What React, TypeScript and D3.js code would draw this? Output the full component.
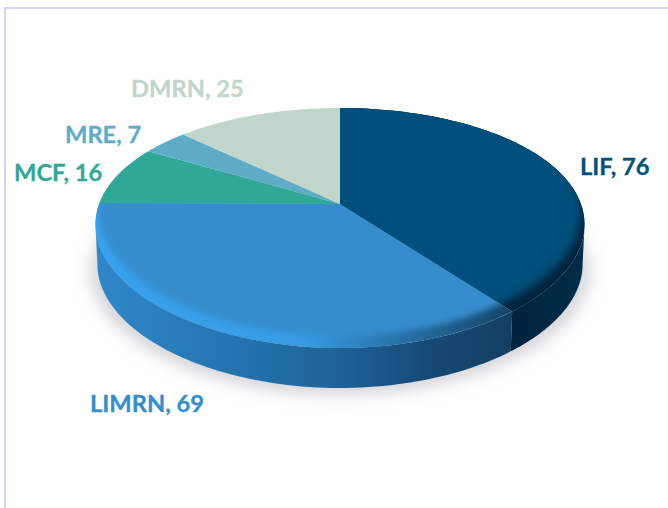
import React from "react";
import * as d3 from "d3";

const categories = ["LIF", "LIMRN", "MCF", "MRE", "DMRN"];
const values = [76, 69, 16, 7, 25];
const colors = ["#02507c", "#348dcd", "#30a898", "#5facc9", "#c0d6ca"];
const labelX = [580, 90, 14, 65, 131];
const labelY = [175, 412, 181, 143, 97];

const W = 668, H = 508;
const cx = 340, cy = 204;
const kx = 0.17, ky = 0.2, A = 115.2, B = 241;
const depth = 40;

// perspective projection of a point on the unit disc (angle clockwise from the top)
const proj = (a: number, r = 1): [number, number] => {
  const u = r * Math.sin(a), v = -r * Math.cos(a);
  return [cx + (B * u) / (1 - kx * v), cy + (A * v) / (1 - ky * v)];
};
const line = d3.line<[number, number]>();
const arcPts = (a0: number, a1: number, r = 1) =>
  d3.range(0, 81).map((i) => proj(a0 + ((a1 - a0) * i) / 80, r));

const arcs = d3.pie<number>().sort(null)(values);
const wedge = (a0: number, a1: number) =>
  line([[cx, cy], ...arcPts(a0, a1)])! + "Z";
const wall = (a0: number, a1: number) => {
  const top = arcPts(a0, a1);
  const bot = top.slice().reverse().map(([x, y]): [number, number] => [
    cx + (x - cx) * 0.992,
    y + depth,
  ]);
  return line([...top, ...bot])! + "Z";
};

// rim angle where the outline is widest
const extreme = Math.PI / 2 + Math.asin(kx);

export default function App() {
  const a1 = arcs[0].endAngle;
  const frontR = extreme;
  const frontL = 2 * Math.PI - extreme;
  const outline = line(arcPts(0, 2 * Math.PI))! + "Z";
  const inner = (f: string, s: number) => (
    <path
      d={outline}
      transform={`translate(${cx} ${cy - s}) scale(0.985 1) translate(${-cx} ${-cy})`}
      filter={`url(#${f})`}
    />
  );
  return (
    <svg
      width={W}
      height={H}
      viewBox={`0 0 ${W} ${H}`}
      style={{ position: "fixed", left: 0, top: 0, background: "#fff" }}
    >
      <defs>
        <filter id="shadow" x="-20%" y="-20%" width="140%" height="140%">
          <feGaussianBlur stdDeviation="8" />
        </filter>
        <filter id="bev" x="-10%" y="-10%" width="120%" height="120%">
          <feGaussianBlur stdDeviation="3" />
        </filter>
        <filter id="bevSoft" x="-10%" y="-10%" width="120%" height="120%">
          <feGaussianBlur stdDeviation="4.5" />
        </filter>
        <linearGradient id="wallB" gradientUnits="userSpaceOnUse" x1="95" x2="510" y1="0" y2="0">
          <stop offset="0" stopColor="#2f88ca" />
          <stop offset="0.35" stopColor="#2473ae" />
          <stop offset="0.62" stopColor="#1d5f94" />
          <stop offset="0.8" stopColor="#164a76" />
          <stop offset="1" stopColor="#133f63" />
        </linearGradient>
        <linearGradient id="wallA" gradientUnits="userSpaceOnUse" x1="510" x2="585" y1="0" y2="0">
          <stop offset="0" stopColor="#00233d" />
          <stop offset="1" stopColor="#012c4a" />
        </linearGradient>
        <linearGradient id="bevB" gradientUnits="userSpaceOnUse" x1="95" x2="510" y1="0" y2="0">
          <stop offset="0" stopColor="#38a2f0" />
          <stop offset="0.5" stopColor="#389ce4" />
          <stop offset="0.68" stopColor="#2c7ab4" />
          <stop offset="1" stopColor="#164569" />
        </linearGradient>
        {arcs.map((d, i) => (
          <clipPath id={`clip${i}`} key={i}>
            <path d={wedge(d.startAngle, d.endAngle)} />
          </clipPath>
        ))}
      </defs>

      <path d="M5 508V8H668" fill="none" stroke="#d6d2f2" strokeWidth={2} />

      <g filter="url(#shadow)">
        <path
          d={outline}
          fill="#9a98a6"
          opacity={0.42}
          transform={`translate(${cx} ${cy + depth + 7}) scale(1.02 1) translate(${-cx} ${-cy})`}
        />
      </g>

      <path d={wall(frontR, a1)} fill="url(#wallA)" />
      <path d={wall(a1, frontL)} fill="url(#wallB)" />

      {arcs.map((d, i) => (
        <path key={i} d={wedge(d.startAngle, d.endAngle)} fill={colors[i]} />
      ))}

      <g clipPath="url(#clip0)">
        <path d={wedge(0, a1)} fill="#00233d" />
        <g fill={colors[0]}>{inner("bevSoft", 12)}</g>
      </g>
      <g clipPath="url(#clip1)">
        <path d={wedge(a1, arcs[1].endAngle)} fill="url(#bevB)" />
        <g fill={colors[1]}>{inner("bev", 12)}</g>
      </g>

      {categories.map((c, i) => (
        <text
          key={c}
          x={labelX[i]}
          y={labelY[i]}
          fill={colors[i]}
          stroke={colors[i]}
          strokeWidth={0.3}
          fontFamily="Lato, 'Open Sans', sans-serif"
          fontWeight={700}
          fontSize={23.7}
        >
          {`${c}, ${values[i]}`}
        </text>
      ))}
    </svg>
  );
}
